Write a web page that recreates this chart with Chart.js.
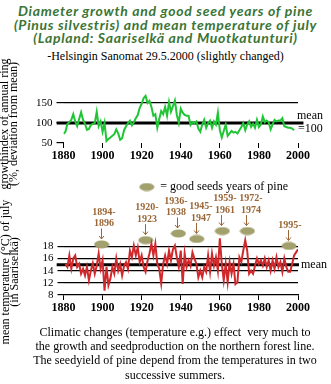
<!DOCTYPE html>
<html>
<head>
<meta charset="utf-8">
<script src="https://cdn.jsdelivr.net/npm/chart.js@4.4.0/dist/chart.umd.min.js"></script>
<style>
    body { margin: 0; background: #fff; }
    #page { position: relative; width: 331px; height: 384px; overflow: hidden; font-family: "Liberation Serif", "Times New Roman", serif; color: #000; }
    #title { position: absolute; left: 0; top: 4px; width: 331px; text-align: center; color: #3a7536; font: italic bold 14px/13.5px Lato, sans-serif; letter-spacing: 0.7px; white-space: nowrap; }
    #source { position: absolute; left: 0; top: 49px; width: 331px; text-align: center; font-size: 12px; line-height: 14px; white-space: nowrap; }
    canvas { position: absolute; left: 0; }
    #growthChart { top: 60px; }
    #tempChart { top: 171px; }
    .ytitle { position: absolute; text-align: center; font-size: 12px; line-height: 9px; white-space: nowrap; transform: rotate(-90deg); }
    #growthTitle { left: -61px; top: 115px; width: 140px; height: 18px; }
    #tempTitle { left: -70px; top: 263px; width: 160px; height: 18px; }
    #caption { position: absolute; left: 19px; top: 325px; width: 312px; text-align: center; font-size: 12px; line-height: 14.2px; white-space: nowrap; }
</style>
</head>
<body>
<div id="page">
    <div id="title">Diameter growth and good seed years of pine<br>(Pinus silvestris) and mean temperature of july<br>(Lapland: Saariselkä and Muotkatunturi)</div>
    <div id="source">-Helsingin Sanomat 29.5.2000 (slightly changed)</div>
    <canvas id="growthChart" width="331" height="105" style="width:331px;height:105px"></canvas>
    <canvas id="tempChart" width="331" height="147" style="width:331px;height:147px"></canvas>
    <div id="growthTitle" class="ytitle">growthindex of annual ring<br>(%, deviation from mean)</div>
    <div id="tempTitle" class="ytitle">mean temperature (°C) of july<br>(in Saariselkä)</div>
    <div id="caption">Climatic changes (temperature e.g.) effect&nbsp; very much to<br>the growth and seedproduction on the northern forest line.<br>The seedyield of pine depend from the temperatures in two<br>successive summers.</div>
</div>
<script>
// Growth index of annual ring, 1880-1998
const growthFirstYear = 1880;
const growthIndex = [
    73, 78, 98, 102, 108, 122, 104, 92, 110, 127,
    108, 98, 83, 85, 95, 98, 100, 128, 92, 104,
    78, 100, 55, 60, 64, 68, 72, 84, 74, 58,
    62, 82, 92, 100, 106, 94, 102, 112, 120, 138,
    148, 162, 168, 150, 155, 140, 118, 122, 88, 110,
    130, 122, 140, 118, 152, 128, 142, 156, 120, 100,
    136, 126, 120, 118, 118, 95, 102, 100, 104, 86,
    78, 96, 108, 88, 100, 106, 88, 104, 96, 126,
    82, 64, 80, 96, 68, 74, 80, 76, 78, 74,
    82, 90, 100, 82, 96, 104, 90, 98, 88, 108,
    90, 96, 116, 102, 106, 102, 84, 96, 108, 104,
    106, 106, 112, 92, 90, 88, 88, 86, 82
];
const growthMean = 100;
const growthMeanSpan = [1876.5, 2002.8];
const growthTicks = [50, 100, 150];

// Mean temperature of july, 1881-2000
const tempFirstYear = 1881;
const julyTemp = [
    15.1, 14.6, 16.5, 14.3, 16.0, 16.5, 14.6, 15.1, 13.5, 14.3,
    13.2, 14.6, 12.4, 14.0, 15.2, 13.5, 14.8, 16.8, 14.3, 15.7,
    10.7, 14.6, 11.6, 12.7, 14.6, 13.5, 16.0, 14.0, 15.1, 13.2,
    14.8, 15.4, 14.3, 17.3, 16.2, 18.1, 16.5, 17.8, 15.4, 16.5,
    14.6, 13.8, 15.6, 16.8, 18.4, 16.5, 18.4, 15.1, 14.3, 11.9,
    15.1, 16.5, 15.1, 17.3, 15.7, 17.5, 18.1, 16.2, 14.6, 17.3,
    11.8, 16.8, 14.6, 15.7, 14.8, 17.0, 16.0, 15.1, 12.9, 14.0,
    12.9, 14.6, 13.8, 16.5, 13.8, 16.8, 14.8, 16.2, 14.0, 19.3,
    15.1, 12.4, 15.1, 12.1, 15.4, 13.5, 15.1, 11.8, 12.1, 16.2,
    15.4, 17.3, 19.0, 17.3, 13.5, 14.0, 13.5, 14.8, 16.0, 15.1,
    15.7, 14.8, 16.0, 14.6, 15.7, 14.0, 15.7, 14.3, 16.2, 14.6,
    15.4, 13.8, 16.0, 14.6, 13.8, 13.8, 15.1, 16.5, 17.0, 17.5
];
const tempMean = 14.95;
const tempMeanSpan = [1876.5, 2000.5];
const tempTicks = [10, 12, 14, 16, 18];
const tempGridValues = [12, 14, 16, 18];

// Good seed years of pine (marker positions)
const seedX = [1899.5, 1922.1, 1938.8, 1948.2, 1961.3, 1974.1, 1995.4];
const seedY = [18.3, 19.0, 20.1, 19.2, 20.5, 20.5, 18.05];
const seedLabels = [
    ['1894-', '1896'], ['1920-', '1923'], ['1936-', '1938'], ['1945-', '1947'],
    ['1959-', '1961'], ['1972-', '1974'], ['1995-']
];
// small sideways nudges of the year labels, in px
const seedLabelNudge = [1, 0, -3, 3, 2, 3, 0];

const yearTicks = [1880, 1900, 1920, 1940, 1960, 1980, 2000];

const SERIF = "'Liberation Serif', 'Times New Roman', serif";
const BROWN = '#9a6636';

// Olive ellipse used for the seed years
function seedMark() {
    const c = document.createElement('canvas');
    c.width = 16;
    c.height = 9;
    const g = c.getContext('2d');
    g.fillStyle = '#a2a06c';
    g.beginPath();
    g.ellipse(8, 4.5, 7.5, 4, 0, 0, Math.PI * 2);
    g.fill();
    return c;
}

function xScale(height, showBorder) {
    return {
        type: 'linear',
        min: 1880,
        max: 2000,
        afterBuildTicks: s => { s.ticks = yearTicks.map(v => ({ value: v })); },
        afterFit: s => { s.height = height; },
        grid: { drawOnChartArea: false, tickLength: 5, color: '#000', tickColor: '#000' },
        border: { display: showBorder, color: '#000', width: 1.3 },
        ticks: {
            color: '#000',
            padding: 1,
            maxRotation: 0,
            autoSkip: false,
            font: { family: SERIF, size: 12, weight: 'bold' },
            callback: v => String(v)
        }
    };
}

// "mean" labels beside the mean lines
function meanLabelPlugin(lines) {
    return {
        id: 'meanLabel',
        afterDraw(chart) {
            const { ctx, chartArea, scales } = chart;
            ctx.save();
            ctx.fillStyle = '#000';
            ctx.font = '12px ' + SERIF;
            ctx.textBaseline = 'middle';
            ctx.textAlign = 'left';
            lines.forEach(l => {
                ctx.fillText(l.text, chartArea.right + l.dx, scales.y.getPixelForValue(l.value) + l.dy);
            });
            ctx.restore();
        }
    };
}

// Year labels and arrows above the seed marks
const seedLabelPlugin = {
    id: 'seedLabels',
    afterDatasetsDraw(chart) {
        const { ctx, scales } = chart;
        ctx.save();
        ctx.strokeStyle = BROWN;
        ctx.fillStyle = BROWN;
        ctx.lineWidth = 1;
        ctx.font = 'bold 10px ' + SERIF;
        ctx.textAlign = 'center';
        ctx.textBaseline = 'middle';
        seedX.forEach((yr, i) => {
            const px = Math.round(scales.x.getPixelForValue(yr)) - 0.5;
            const py = scales.y.getPixelForValue(seedY[i]);
            ctx.beginPath();
            ctx.moveTo(px, py - 16);
            ctx.lineTo(px, py - 5.5);
            ctx.moveTo(px - 2.5, py - 8.5);
            ctx.lineTo(px, py - 5.5);
            ctx.lineTo(px + 2.5, py - 8.5);
            ctx.stroke();
            const lines = seedLabels[i];
            lines.forEach((t, j) => {
                const off = 21 + (lines.length - 1 - j) * 11.5;
                ctx.fillText(t, px + 1.5 + seedLabelNudge[i], py - off);
            });
        });
        ctx.restore();
    }
};

// Growth chart
new Chart(document.getElementById('growthChart'), {
    type: 'line',
    data: {
        datasets: [
            {
                data: growthIndex.map((v, i) => ({ x: growthFirstYear + i, y: v })),
                borderColor: '#1fc534',
                borderWidth: 2,
                pointRadius: 0,
                tension: 0
            },
            {
                data: growthMeanSpan.map(x => ({ x: x, y: growthMean })),
                borderColor: '#000',
                borderWidth: 3,
                pointRadius: 0,
                clip: false
            }
        ]
    },
    options: {
        responsive: false,
        animation: false,
        layout: { padding: { top: 33, right: 33 } },
        plugins: { legend: { display: false }, tooltip: { enabled: false } },
        scales: {
            x: xScale(22, false),
            y: {
                min: 50,
                max: 175,
                afterBuildTicks: s => { s.ticks = growthTicks.map(v => ({ value: v })); },
                afterFit: s => { s.width = 63.5; },
                grid: {
                    color: c => (c.tick && c.tick.value === 150 ? '#000' : 'rgba(0,0,0,0)'),
                    tickColor: '#000',
                    tickLength: 7,
                    lineWidth: 1.2
                },
                border: { display: false },
                ticks: { color: '#000', padding: 4, font: { family: SERIF, size: 11 }, callback: v => String(v) }
            }
        }
    },
    plugins: [meanLabelPlugin([
        { text: 'mean', value: growthMean, dx: -1, dy: -7 },
        { text: '=100', value: growthMean, dx: 0, dy: 6 }
    ])]
});

// Temperature chart
new Chart(document.getElementById('tempChart'), {
    type: 'line',
    data: {
        datasets: [
            {
                data: julyTemp.map((v, i) => ({ x: tempFirstYear + i, y: v })),
                borderColor: '#d1282c',
                borderWidth: 2,
                pointRadius: 0,
                tension: 0
            },
            {
                data: tempMeanSpan.map(x => ({ x: x, y: tempMean })),
                borderColor: '#000',
                borderWidth: 3,
                pointRadius: 0,
                clip: false
            },
            {
                label: '= good seeds years of pine',
                data: seedX.map((x, i) => ({ x: x, y: seedY[i] })),
                showLine: false,
                pointStyle: seedMark(),
                pointRadius: 7,
                borderColor: '#a2a06c',
                backgroundColor: '#a2a06c'
            }
        ]
    },
    options: {
        responsive: false,
        animation: false,
        layout: { padding: { right: 33 } },
        plugins: {
            tooltip: { enabled: false },
            legend: {
                position: 'top',
                align: 'end',
                fullSize: false,
                labels: {
                    usePointStyle: true,
                    pointStyleWidth: 15,
                    padding: 10,
                    color: '#000',
                    font: { family: SERIF, size: 12 },
                    filter: item => item.datasetIndex === 2
                }
            }
        },
        scales: {
            x: xScale(23, true),
            y: {
                min: 10,
                max: 25.1,
                afterBuildTicks: s => { s.ticks = tempTicks.map(v => ({ value: v })); },
                afterFit: s => { s.width = 63.5; },
                grid: {
                    color: c => (c.tick && tempGridValues.includes(c.tick.value) ? '#000' : 'rgba(0,0,0,0)'),
                    tickColor: '#000',
                    tickLength: 6,
                    lineWidth: 1.2
                },
                border: { display: false },
                ticks: { color: '#000', padding: 4, font: { family: SERIF, size: 11 }, callback: v => (v === 10 ? '8' : String(v)) }
            }
        }
    },
    plugins: [seedLabelPlugin, meanLabelPlugin([
        { text: 'mean', value: tempMean, dx: 3, dy: 0 }
    ])]
});
</script>
</body>
</html>
